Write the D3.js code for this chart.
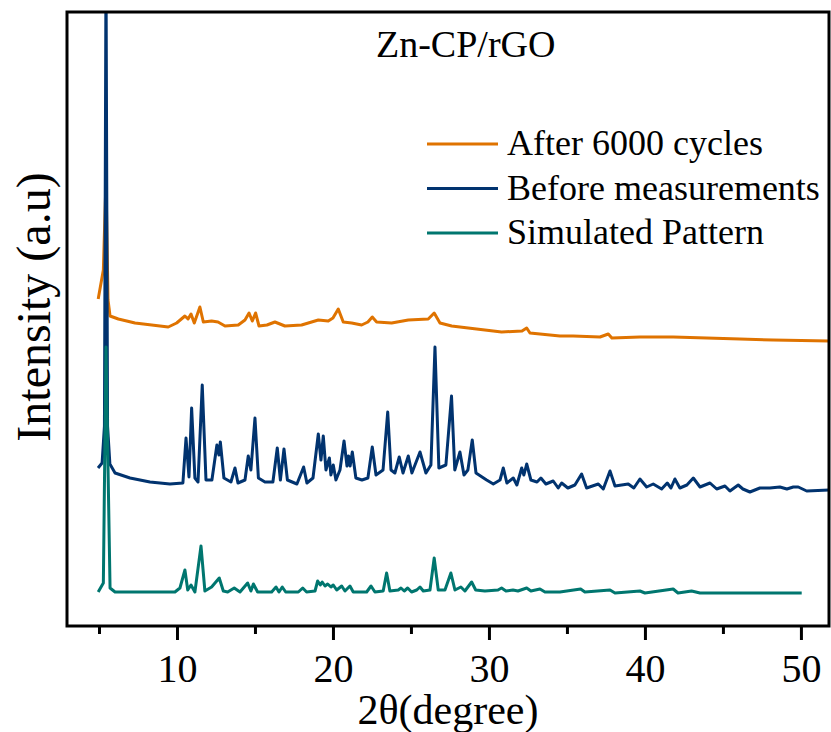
<!DOCTYPE html>
<html>
<head>
<meta charset="utf-8">
<script src="https://cdn.jsdelivr.net/npm/d3@7"></script>
<style>
  body { margin: 0; background: #fff; }
  text { font-family: "Liberation Serif", "Times New Roman", serif; fill: #000; }
</style>
</head>
<body>
<div id="viz"></div>
<script>
// xrd patterns, [2theta, intensity (a.u.)]
var afterCycles = [
  [4.95,327],[5.28,356],[5.45,446],[5.58,326],[5.71,310],[6.24,307],[7.31,303],[8.38,301],
  [9.44,299],[9.98,303],[10.51,310],[10.71,307],[10.9,312],[11.11,303],[11.47,319],[11.69,304],
  [12.22,305],[12.63,304],[13.08,300],[13.93,301],[14.36,306],[14.62,313],[14.83,305],[15.04,313],
  [15.26,300],[15.77,301],[16.28,304],[16.92,300],[17.99,301],[19.06,306],[19.7,305],[20.0,308],
  [20.34,317],[20.66,304],[21.2,303],[21.84,301],[22.24,304],[22.52,309],[22.8,304],[23.76,303],
  [24.83,306],[26.11,307],[26.49,313],[26.86,303],[27.61,300],[28.67,298],[29.74,296],[30.81,294],
  [32.12,295],[32.42,298],[32.63,293],[34.55,290],[35.4,290],[37.12,289],[37.65,292],[37.88,288],
  [39.68,289],[41.81,289],[43.96,288],[46.09,287],[48.22,286],[51.87,285]
];

var beforeMeas = [
  [4.94,158],[5.2,163],[5.35,200],[5.45,660],[5.55,200],[5.7,162],[6.03,153],[6.99,148],
  [8.27,144],[9.55,142],[10.38,143],[10.58,188],[10.77,149],[10.94,218],[11.15,148],[11.35,144],
  [11.62,241],[11.86,146],[12.24,146],[12.56,181],[12.69,171],[12.78,184],[13.01,148],[13.46,144],
  [13.72,158],[13.91,143],[14.36,146],[14.57,170],[14.74,156],[15.0,208],[15.22,148],[15.64,144],
  [16.15,144],[16.43,178],[16.63,146],[16.86,177],[17.08,146],[17.69,142],[18.12,159],[18.33,143],
  [18.72,148],[19.06,192],[19.23,166],[19.38,190],[19.55,156],[19.77,168],[19.87,151],[20.02,161],
  [20.19,146],[20.45,156],[20.71,185],[20.9,160],[21.0,170],[21.1,160],[21.24,174],[21.47,148],
  [21.86,146],[22.24,148],[22.52,179],[22.76,151],[23.21,156],[23.51,214],[23.72,156],[23.97,153],
  [24.25,169],[24.49,153],[24.83,170],[25.06,153],[25.58,174],[25.96,153],[26.28,161],[26.54,279],
  [26.79,158],[27.24,161],[27.6,230],[27.81,156],[28.14,174],[28.4,151],[28.65,156],[28.93,186],
  [29.17,153],[29.85,146],[30.28,142],[30.71,146],[30.92,158],[31.15,143],[31.56,148],[31.79,141],
  [32.1,158],[32.24,151],[32.42,162],[32.69,146],[33.08,144],[33.33,148],[33.65,142],[34.12,145],
  [34.44,138],[34.66,143],[35.06,138],[35.51,141],[35.94,152],[36.26,138],[37.01,142],[37.33,137],
  [37.76,155],[38.08,140],[38.93,142],[39.29,138],[39.68,147],[40.11,139],[40.53,142],[41.07,137],
  [41.43,143],[41.67,138],[41.92,147],[42.24,138],[42.69,141],[43.1,148],[43.53,139],[44.17,143],
  [44.6,137],[45.13,140],[45.45,135],[45.98,141],[46.28,137],[46.73,134],[47.37,138],[48.01,138],
  [48.65,139],[49.1,137],[49.51,139],[49.83,139],[50.37,135],[51.87,136]
];

var simulated = [
  [4.95,34],[5.28,43],[5.45,279],[5.71,38],[6.03,34],[9.87,34],[10.19,38],[10.51,56],
  [10.69,36],[10.9,41],[11.15,34],[11.54,80],[11.79,35],[12.22,39],[12.71,48],[12.97,35],
  [13.25,34],[13.67,38],[14.04,34],[14.53,43],[14.74,35],[14.9,42],[15.17,34],[16.07,34],
  [16.35,39],[16.54,34],[16.75,39],[16.97,34],[17.78,34],[18.06,38],[18.31,34],[18.85,35],
  [19.02,45],[19.19,41],[19.31,44],[19.49,40],[19.66,42],[19.87,39],[20.02,41],[20.24,36],
  [20.56,40],[20.77,35],[21.09,40],[21.3,34],[22.16,34],[22.44,40],[22.69,34],[23.22,35],
  [23.44,53],[23.65,35],[24.19,36],[24.36,38],[24.57,35],[24.79,38],[25.04,34],[25.37,36],
  [25.58,39],[25.79,35],[26.22,36],[26.49,68],[26.75,36],[27.18,36],[27.56,53],[27.82,36],
  [28.2,39],[28.46,35],[28.89,44],[29.15,36],[29.74,35],[30.58,36],[30.81,38],[31.09,35],
  [31.54,36],[31.86,35],[32.42,38],[32.69,35],[33.27,37],[33.59,34],[34.55,34],[35.88,37],
  [36.15,34],[37.76,36],[38.08,33],[39.68,35],[40.0,33],[41.81,37],[42.12,33],[42.99,35],
  [43.53,33],[46.09,33],[48.01,33],[50.05,33]
];

var seriesNames = ["After 6000 cycles", "Before measurements", "Simulated Pattern"];
var seriesColors = ["#df7300", "#01336f", "#00766f"];
var majorTicks = [10, 20, 30, 40, 50];
var minorTicks = [5, 15, 25, 35, 45];
var xDomain = [2.95, 51.8];
var yDomain = [0, 614];

// dimensions (plotTop, not "top", which is taken by window.top)
var width = 831;
var height = 732;
var plotLeft = 67, plotRight = 829, plotTop = 12, plotBottom = 626;

var svg = d3.select("#viz")
    .append("svg")
    .attr("width", width)
    .attr("height", height);

var xscale = d3.scaleLinear().domain(xDomain).range([plotLeft, plotRight]);
var yscale = d3.scaleLinear().domain(yDomain).range([plotBottom, plotTop]);

svg.append("clipPath")
    .attr("id", "plotclip")
    .append("rect")
    .attr("x", plotLeft).attr("y", plotTop)
    .attr("width", plotRight - plotLeft).attr("height", plotBottom - plotTop);

var line = d3.line()
    .x(function(d) { return xscale(d[0]); })
    .y(function(d) { return yscale(d[1]); });

// orange first, then navy, teal on top
var allSeries = [afterCycles, beforeMeas, simulated];
svg.append("g")
    .attr("clip-path", "url(#plotclip)")
    .selectAll("path")
    .data(allSeries)
    .enter()
    .append("path")
    .attr("d", line)
    .attr("fill", "none")
    .attr("stroke", function(d, i) { return seriesColors[i]; })
    .attr("stroke-width", 3)
    .attr("stroke-linejoin", "round");

// frame
svg.append("rect")
    .attr("x", plotLeft).attr("y", plotTop)
    .attr("width", plotRight - plotLeft).attr("height", plotBottom - plotTop)
    .attr("fill", "none")
    .attr("stroke", "#000")
    .attr("stroke-width", 3);

// bottom axis, major ticks labelled and minor ones between
var xaxis = svg.append("g")
    .attr("transform", "translate(0," + plotBottom + ")")
    .call(d3.axisBottom(xscale).tickValues(majorTicks).tickSize(14).tickPadding(14).tickFormat(d3.format("d")));
xaxis.select(".domain").remove();
xaxis.selectAll("line").attr("stroke-width", 3);
xaxis.selectAll("text")
    .style("font-family", "Liberation Serif")
    .style("font-size", "40px")
    .attr("fill", "#000");

var xminor = svg.append("g")
    .attr("transform", "translate(0," + plotBottom + ")")
    .call(d3.axisBottom(xscale).tickValues(minorTicks).tickSize(8).tickFormat(""));
xminor.select(".domain").remove();
xminor.selectAll("line").attr("stroke-width", 3);

// axis titles
svg.append("text")
    .attr("x", (plotLeft + plotRight) / 2)
    .attr("y", 724)
    .attr("text-anchor", "middle")
    .style("font-size", "42px")
    .text("2θ(degree)");

svg.append("text")
    .attr("transform", "translate(50,307) rotate(-90)")
    .attr("text-anchor", "middle")
    .style("font-size", "48px")
    .text("Intensity (a.u)");

// title inside plot
svg.append("text")
    .attr("x", 376)
    .attr("y", 57)
    .style("font-size", "38px")
    .text("Zn-CP/rGO");

// legend
var legend = svg.selectAll(".legend")
    .data(seriesNames)
    .enter()
    .append("g")
    .attr("class", "legend")
    .attr("transform", function(d, i) { return "translate(427," + (144 + i * 44.5) + ")"; });

legend.append("line")
    .attr("x1", 0).attr("x2", 71)
    .attr("y1", 0).attr("y2", 0)
    .attr("stroke", function(d, i) { return seriesColors[i]; })
    .attr("stroke-width", 3);

legend.append("text")
    .attr("x", 80)
    .attr("y", 11)
    .style("font-size", "36px")
    .text(function(d) { return d; });
</script>
</body>
</html>
